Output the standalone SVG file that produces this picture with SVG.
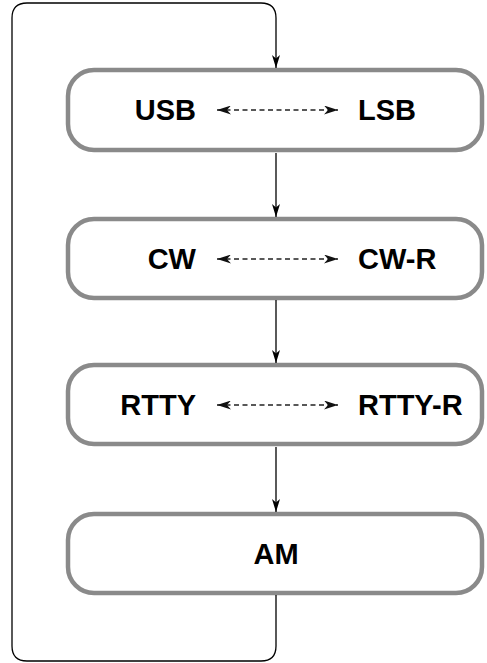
<svg xmlns="http://www.w3.org/2000/svg" width="487" height="663" viewBox="0 0 487 663">
<style>
.box{fill:#fff;stroke:#8a8a8a;stroke-width:4.5}
.lbl{font-family:"Liberation Sans",Arial,sans-serif;font-weight:bold;font-size:29px;fill:#000}
.flow{fill:none;stroke:#000;stroke-width:1.3}
.dash{fill:none;stroke:#222;stroke-width:1.4;stroke-dasharray:5 3.5}
</style>
<defs>
<marker id="ah" markerUnits="userSpaceOnUse" markerWidth="14" markerHeight="10" refX="13" refY="4" orient="auto" viewBox="0 0 14 8">
<path d="M0,0 L13,4 L0,8 L3.5,4 Z" fill="#000"/>
</marker>
<marker id="dh" markerUnits="userSpaceOnUse" markerWidth="15" markerHeight="9" refX="14" refY="4.5" orient="auto-start-reverse" viewBox="0 0 15 9">
<path d="M0,0 L14,4.5 L0,9 L4,4.5 Z" fill="#111"/>
</marker>
</defs>
<g id="node-usb-lsb">
<rect class="box" x="68" y="70" width="414" height="80" rx="26"/>
<text class="lbl" x="196" y="120" text-anchor="end">USB</text>
<text class="lbl" x="358" y="120">LSB</text>
</g>
<g id="node-cw">
<rect class="box" x="68" y="219" width="414" height="79" rx="26"/>
<text class="lbl" x="196" y="269" text-anchor="end">CW</text>
<text class="lbl" x="358" y="269">CW-R</text>
</g>
<g id="node-rtty">
<rect class="box" x="68" y="365" width="414" height="79" rx="26"/>
<text class="lbl" x="196" y="415" text-anchor="end">RTTY</text>
<text class="lbl" x="358" y="415">RTTY-R</text>
</g>
<g id="node-am">
<rect class="box" x="68" y="514" width="414" height="79" rx="26"/>
<text class="lbl" x="276" y="564" text-anchor="middle">AM</text>
</g>
<g id="connectors">
<path class="flow" d="M276,595 L276,646 Q276,661 261,661 L27,661 Q12,661 12,646 L12,18 Q12,3 27,3 L261,3 Q276,3 276,18 L276,68" marker-end="url(#ah)"/>
<path class="flow" d="M276,153 L276,217" marker-end="url(#ah)"/>
<path class="flow" d="M276,300 L276,363" marker-end="url(#ah)"/>
<path class="flow" d="M276,447 L276,512" marker-end="url(#ah)"/>
<path class="dash" d="M217,110 L338,110" marker-start="url(#dh)" marker-end="url(#dh)"/>
<path class="dash" d="M217,259 L338,259" marker-start="url(#dh)" marker-end="url(#dh)"/>
<path class="dash" d="M217,405 L338,405" marker-start="url(#dh)" marker-end="url(#dh)"/>
</g>
</svg>
